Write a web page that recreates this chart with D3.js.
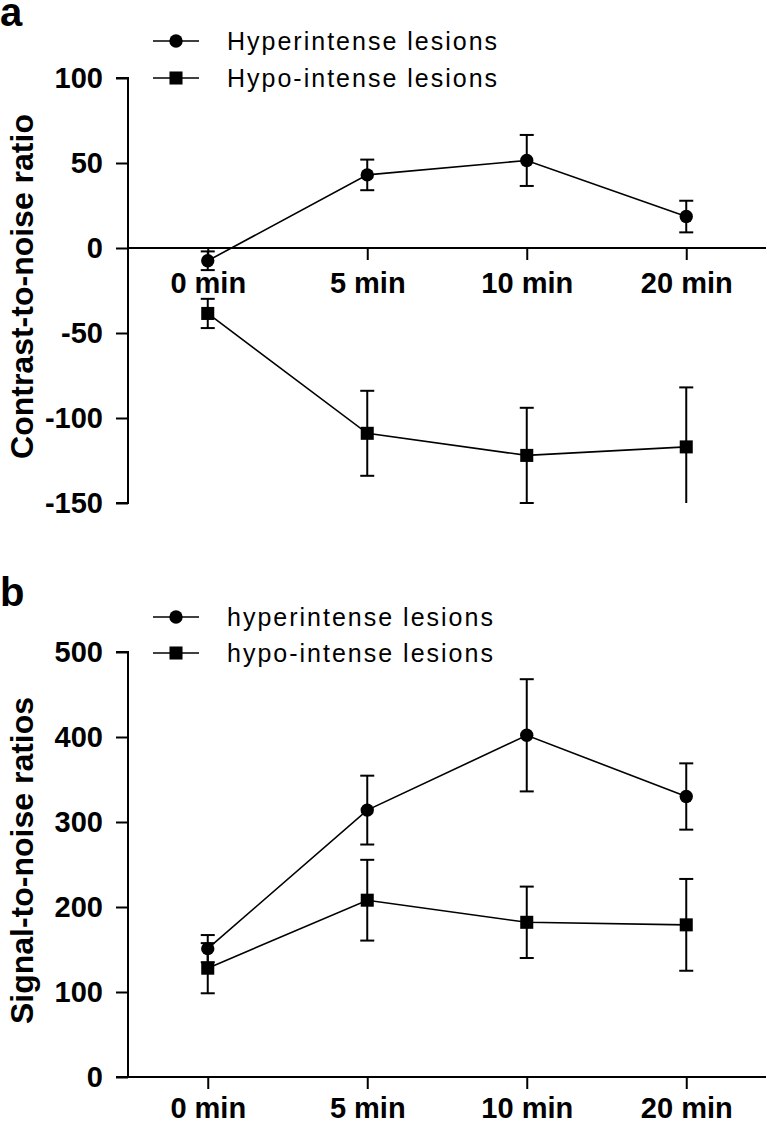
<!DOCTYPE html>
<html>
<head>
<meta charset="utf-8">
<script src="https://cdnjs.cloudflare.com/ajax/libs/d3/7.8.5/d3.min.js"></script>
<style>
	body { margin: 0; background: #fff; }
	svg { display: block; font-family: "Liberation Sans", Arial, sans-serif; }
</style>
</head>
<body>
<svg id="chart"></svg>
<script>
var categories = ["0 min", "5 min", "10 min", "20 min"];

// panel a: contrast-to-noise ratio
var cnrHyper = [-7.5, 43, 51.5, 18.5];
var cnrHyperErr = [5.5, 9, 15, 9.3];
var cnrHypo = [-38.5, -109, -122, -117];
var cnrHypoErr = [8.6, 25, 28, 35];
var cnrTicks = [100, 50, 0, -50, -100, -150];

// panel b: signal-to-noise ratios
var snrHyper = [151, 314, 402, 330];
var snrHyperErr = [16, 40.5, 66, 39];
var snrHypo = [128, 208, 182, 179];
var snrHypoErr = [29.5, 47.5, 42, 54];
var snrTicks = [0, 100, 200, 300, 400, 500];

var width = 767;
var height = 1123;

var svg = d3.select("#chart")
	.attr("width", width)
	.attr("height", height);

var xScale = d3.scalePoint()
	.domain(categories)
	.range([128, 766])
	.padding(0.5);

function drawPanel(opts) {
	var g = svg.append("g");
	var y = opts.y;

	// y axis
	var yAxis = d3.axisLeft(y)
		.tickValues(opts.ticks)
		.tickFormat(function(d) { return String(d); })
		.tickSize(12)
		.tickPadding(13);

	var ya = g.append("g")
		.attr("transform", "translate(128,0)")
		.call(yAxis);
	ya.select(".domain").attr("stroke-width", 2).attr("d", "M-12," + y.range()[1] + "H0V" + y.range()[0] + "H-12");
	ya.selectAll(".tick line").attr("stroke-width", 2);
	ya.selectAll("text")
		.attr("font-size", 29)
		.attr("font-weight", "bold")
		.attr("fill", "#000");

	// x axis at the baseline value
	var xAxis = d3.axisBottom(xScale)
		.tickSize(12)
		.tickPadding(opts.xPad);

	var xa = g.append("g")
		.attr("transform", "translate(0," + y(opts.baseline) + ")")
		.call(xAxis);
	xa.select(".domain").attr("stroke-width", 2).attr("d", "M128,0H766");
	xa.selectAll(".tick line").attr("stroke-width", 2);
	xa.selectAll("text")
		.attr("font-size", 29)
		.attr("font-weight", "bold")
		.attr("fill", "#000");

	// y title
	g.append("text")
		.attr("transform", "translate(33," + ((y.range()[0] + y.range()[1]) / 2 - 4) + ")rotate(-90)")
		.attr("text-anchor", "middle")
		.attr("font-size", 32)
		.attr("font-weight", "bold")
		.text(opts.title);

	// panel letter
	g.append("text")
		.attr("x", 0)
		.attr("y", opts.letterY)
		.attr("font-size", 40)
		.attr("font-weight", "bold")
		.text(opts.letter);

	var yMin = y.domain()[0];
	var yMax = y.domain()[1];

	opts.series.forEach(function(s) {
		var pts = s.values.map(function(v, i) {
			return { cat: categories[i], v: v, e: s.errors[i] };
		});

		// error bars
		pts.forEach(function(p) {
			var hi = p.v + p.e, lo = p.v - p.e;
			var hiC = Math.min(hi, yMax), loC = Math.max(lo, yMin);
			var cx = xScale(p.cat);
			g.append("line")
				.attr("x1", cx).attr("x2", cx)
				.attr("y1", y(hiC)).attr("y2", y(loC))
				.attr("stroke", "#000").attr("stroke-width", 2);
			if (hi <= yMax) {
				g.append("line")
					.attr("x1", cx - 7).attr("x2", cx + 7)
					.attr("y1", y(hi)).attr("y2", y(hi))
					.attr("stroke", "#000").attr("stroke-width", 2);
			}
			if (lo >= yMin) {
				g.append("line")
					.attr("x1", cx - 7).attr("x2", cx + 7)
					.attr("y1", y(lo)).attr("y2", y(lo))
					.attr("stroke", "#000").attr("stroke-width", 2);
			}
		});

		// connecting line
		var line = d3.line()
			.x(function(d) { return xScale(d.cat); })
			.y(function(d) { return y(d.v); });

		g.append("path")
			.datum(pts)
			.attr("d", line)
			.attr("fill", "none")
			.attr("stroke", "#000")
			.attr("stroke-width", 1.6);

		// markers
		var sym = d3.symbol()
			.type(s.shape == "circle" ? d3.symbolCircle : d3.symbolSquare)
			.size(s.shape == "circle" ? 140 : 170);

		g.selectAll(null)
			.data(pts)
			.enter()
			.append("path")
				.attr("d", sym)
				.attr("transform", function(d) {
					return "translate(" + xScale(d.cat) + "," + y(d.v) + ")";
				})
				.attr("fill", "#000");
	});

	// legend
	opts.series.forEach(function(s, i) {
		var ly = opts.legendY[i];
		g.append("line")
			.attr("x1", 153).attr("x2", 199)
			.attr("y1", ly).attr("y2", ly)
			.attr("stroke", "#000").attr("stroke-width", 1.6);
		g.append("path")
			.attr("d", d3.symbol()
				.type(s.shape == "circle" ? d3.symbolCircle : d3.symbolSquare)
				.size(s.shape == "circle" ? 140 : 170))
			.attr("transform", "translate(176," + ly + ")")
			.attr("fill", "#000");
		g.append("text")
			.attr("x", 227)
			.attr("y", ly)
			.attr("dy", "0.35em")
			.attr("font-size", 25)
			.attr("letter-spacing", 2)
			.text(s.name);
	});
}

// Panel a
drawPanel({
	y: d3.scaleLinear().domain([-150, 100]).range([503, 78]),
	ticks: cnrTicks,
	baseline: 0,
	xPad: 12,
	title: "Contrast-to-noise ratio",
	letter: "a",
	letterY: 26,
	legendY: [41, 78],
	series: [
		{ name: "Hyperintense lesions", shape: "circle", values: cnrHyper, errors: cnrHyperErr },
		{ name: "Hypo-intense lesions", shape: "square", values: cnrHypo, errors: cnrHypoErr }
	]
});

// Panel b
drawPanel({
	y: d3.scaleLinear().domain([0, 500]).range([1077, 652]),
	ticks: snrTicks,
	baseline: 0,
	xPad: 8,
	title: "Signal-to-noise ratios",
	letter: "b",
	letterY: 606,
	legendY: [617, 653],
	series: [
		{ name: "hyperintense lesions", shape: "circle", values: snrHyper, errors: snrHyperErr },
		{ name: "hypo-intense lesions", shape: "square", values: snrHypo, errors: snrHypoErr }
	]
});
</script>
</body>
</html>
